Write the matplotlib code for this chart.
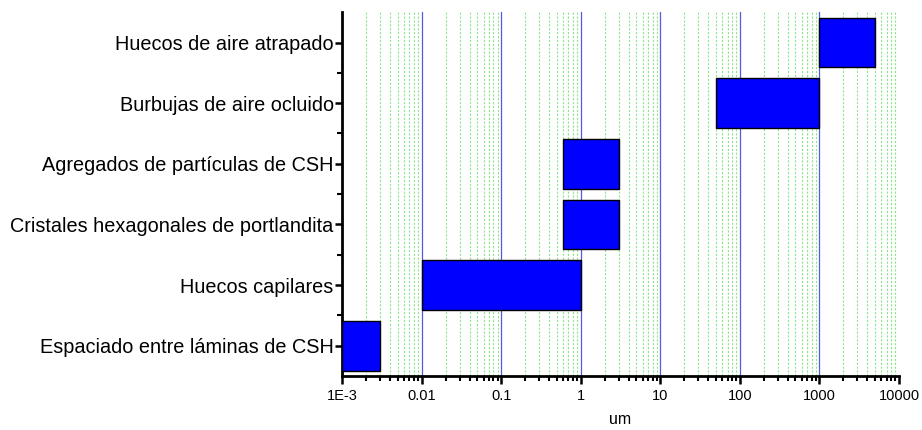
import matplotlib
matplotlib.use("Agg")
import matplotlib.pyplot as plt
import numpy as np
from matplotlib.ticker import LogLocator, FixedLocator, NullFormatter

# pore / feature sizes in um (log scale)
categories = [
    "Espaciado entre láminas de CSH",
    "Huecos capilares",
    "Cristales hexagonales de portlandita",
    "Agregados de partículas de CSH",
    "Burbujas de aire ocluido",
    "Huecos de aire atrapado",
]
size_min = [0.001, 0.01, 0.6, 0.6, 50, 1000]
size_max = [0.003, 1.0, 3.0, 3.0, 1000, 5000]

xticks = [1e-3, 1e-2, 1e-1, 1, 10, 100, 1000, 10000]
xticklabels = ["1E-3", "0.01", "0.1", "1", "10", "100", "1000", "10000"]

plt.rcParams["font.family"] = ["Liberation Sans", "DejaVu Sans"]

fig = plt.figure(figsize=(9.22, 4.3), dpi=100)
ax = fig.add_axes([0.371, 0.1256, 0.604, 0.846])

ypos = np.arange(len(categories))
widths = [b - a for a, b in zip(size_min, size_max)]
ax.barh(ypos, widths, left=size_min, height=0.82, color="#0000ff",
        edgecolor="black", linewidth=1.0, zorder=3)

ax.set_xscale("log")
ax.set_xlim(1e-3, 1e4)
ax.set_ylim(-0.5, len(categories) - 0.5)

# grid: blue solid at decades, green dotted at minors
for v in [1e-2, 1e-1, 1, 10, 100, 1000]:
    ax.axvline(v, color="#5858e0", linewidth=0.9, zorder=1)
ax.xaxis.set_minor_locator(LogLocator(base=10, subs=np.arange(2, 10)))
ax.xaxis.set_minor_formatter(NullFormatter())
ax.grid(True, which="minor", axis="x", color="#88e888", linestyle=(0, (2, 1.5)),
        linewidth=0.8, zorder=0)

ax.set_xticks(xticks)
ax.set_xticklabels(xticklabels, fontsize=10.5)
ax.set_yticks(ypos)
ax.set_yticklabels(categories, fontsize=14.3)
ax.yaxis.set_minor_locator(FixedLocator(ypos[:-1] + 0.5))

ax.tick_params(axis="both", which="major", direction="out", length=6, width=1.8)
ax.tick_params(axis="both", which="minor", direction="out", length=3.5, width=1.5)
ax.tick_params(axis="y", which="major", length=5, pad=1)

for s in ["top", "right"]:
    ax.spines[s].set_visible(False)
for s in ["left", "bottom"]:
    ax.spines[s].set_linewidth(2)

ax.set_xlabel("um", fontsize=11.5, labelpad=6)

fig.savefig("out.png", dpi=100)
